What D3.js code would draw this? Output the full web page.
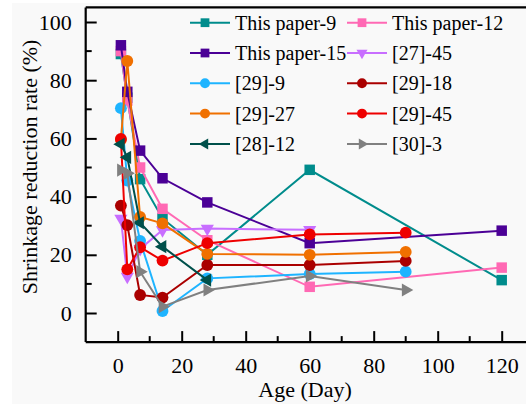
<!DOCTYPE html>
<html><head><meta charset="utf-8">
<script src="https://cdn.jsdelivr.net/npm/d3@7"></script>
<style>html,body{margin:0;padding:0;background:#fff;}svg{display:block;font-family:"Liberation Serif","Times New Roman",serif;}</style>
</head><body><svg id="c" width="526" height="404"></svg>
<script>
// ---- data ----
const seriesNames = ["This paper-9","This paper-12","This paper-15","[27]-45","[29]-9","[29]-18","[29]-27","[29]-45","[28]-12","[30]-3"];
const seriesColors = ["#008C8C","#FF69B4","#4B0096","#C86EFF","#1EB4FF","#AA0000","#F07000","#EE0000","#00504B","#808080"];
const seriesSymbols = ["square","square","square","down","circle","circle","circle","circle","left","right"];
const agesThisPaper = [1,3,7,14,28,60,120];
const ages27 = [1,3,7,14,28,60];
const ages29 = [1,3,7,14,28,60,90];
const ages28 = [1,3,7,14,28];
const ages30 = [1,3,7,14,28,60,90];
const tp9  = [89, 74, 46, 32.5, 20, 49.2, 11.3];
const tp12 = [90, 73, 50, 35.8, 25, 9, 15.6];
const tp15 = [92, 76, 55.8, 46.3, 38, 24, 28.3];
const r27_45 = [32.5, 12.5, 22, 28.5, 29, 28.6];
const r29_9  = [70.4, 45.5, 24.8, 0.7, 11.9, 13.4, 14.2];
const r29_18 = [36.9, 30.2, 6.2, 5.3, 16.5, 16.5, 17.9];
const r29_27 = [59.5, 86.6, 33, 30.8, 20.3, 20, 21];
const r29_45 = [59.8, 15, 22.6, 18, 24, 27, 27.6];
const r28_12 = [58, 53.5, 31, 22.8, 11.3];
const r30_3  = [49.1, 48, 14.2, 2.2, 7.9, 12.7, 7.9];
const seriesAges = [agesThisPaper,agesThisPaper,agesThisPaper,ages27,ages29,ages29,ages29,ages29,ages28,ages30];
const seriesValues = [tp9,tp12,tp15,r27_45,r29_9,r29_18,r29_27,r29_45,r28_12,r30_3];
const xTicks = [0,20,40,60,80,100,120];
const yTicks = [0,20,40,60,80,100];

// ---- chart ----
const svg = d3.select("#c");
svg.append("rect").attr("x",12).attr("y",3).attr("width",514).attr("height",401).attr("fill","#f9f9f9");
const x = d3.scaleLinear().domain([-10,130]).range([85.7,533.7]);
const y = d3.scaleLinear().domain([-10,105]).range([342.1,7.45]);

// frame
const g = svg.append("g");
g.append("line").attr("x1",x(-10)).attr("x2",x(130)).attr("y1",y(105)).attr("y2",y(105)).attr("stroke","#000").attr("stroke-width",2.2);

// series
const symType = {square:d3.symbolSquare,circle:d3.symbolCircle,down:d3.symbolTriangle,left:d3.symbolTriangle,right:d3.symbolTriangle};
const symRot = {square:0,circle:0,down:180,left:-90,right:90};
const symSize = {square:110,circle:110,down:75,left:75,right:75};
const line = d3.line().x(d=>x(d[0])).y(d=>y(d[1]));
seriesNames.forEach((name,i)=>{
  const pts = seriesAges[i].map((a,j)=>[a,seriesValues[i][j]]).filter(d=>d[1]!=null);
  const sg = g.append("g");
  sg.append("path").attr("d",line(pts)).attr("fill","none").attr("stroke",seriesColors[i]).attr("stroke-width",2);
  const s = seriesSymbols[i];
  sg.selectAll("path.m").data(pts).join("path").attr("class","m")
    .attr("d",d3.symbol(symType[s],symSize[s]))
    .attr("transform",d=>`translate(${x(d[0])},${y(d[1])}) rotate(${symRot[s]})`)
    .attr("fill",seriesColors[i]);
});

// axes
const xAxis = d3.axisBottom(x).tickValues(xTicks).tickSize(-11).tickPadding(0).tickFormat(d3.format("d"));
const xg = svg.append("g").attr("transform",`translate(0,${y(-10)})`).call(xAxis);
xg.select(".domain").attr("stroke-width",2.2).attr("d",`M${x(-10)},0H${x(130)}`);
xg.selectAll(".tick line").attr("stroke-width",2);
xg.selectAll(".tick text").attr("font-size",22).attr("fill","#000").attr("dy",null).attr("y",31).attr("font-family","Liberation Serif");
const xMinor = d3.range(10,130,20);
xg.selectAll("line.minor").data(xMinor).join("line").attr("class","minor")
  .attr("x1",d=>x(d)).attr("x2",d=>x(d)).attr("y1",0).attr("y2",-6).attr("stroke","#000").attr("stroke-width",2);

const yAxis = d3.axisLeft(y).tickValues(yTicks).tickSize(-11).tickPadding(14).tickFormat(d3.format("d"));
const yg = svg.append("g").attr("transform",`translate(${x(-10)},0)`).call(yAxis);
yg.select(".domain").attr("stroke-width",2.2).attr("d",`M0,${y(105)}V${y(-10)}`);
yg.selectAll(".tick line").attr("stroke-width",2);
yg.selectAll(".tick text").attr("font-size",22).attr("fill","#000").attr("font-family","Liberation Serif");
const yMinor = d3.range(10,100,20);
yg.selectAll("line.minor").data(yMinor).join("line").attr("class","minor")
  .attr("y1",d=>y(d)).attr("y2",d=>y(d)).attr("x1",0).attr("x2",6).attr("stroke","#000").attr("stroke-width",2);

svg.append("text").attr("x",305).attr("y",397).attr("text-anchor","middle").attr("font-size",22).text("Age (Day)");
svg.append("text").attr("transform","translate(37,167) rotate(-90)").attr("text-anchor","middle").attr("font-size",22).text("Shrinkage reduction rate (%)");

// legend
const leg = svg.append("g");
seriesNames.forEach((name,i)=>{
  const col = i%2, row = Math.floor(i/2);
  const lx = col===0 ? 190 : 347, ly = 22.7 + row*30.3;
  const lg = leg.append("g");
  lg.append("line").attr("x1",lx).attr("x2",lx+40).attr("y1",ly).attr("y2",ly).attr("stroke",seriesColors[i]).attr("stroke-width",2);
  const s = seriesSymbols[i];
  lg.append("path").attr("d",d3.symbol(symType[s],symSize[s]*0.7)).attr("transform",`translate(${lx+15},${ly}) rotate(${symRot[s]})`).attr("fill",seriesColors[i]);
  lg.append("text").attr("x",lx+45).attr("y",ly+7).attr("font-size",20).text(name);
});
</script></body></html>
